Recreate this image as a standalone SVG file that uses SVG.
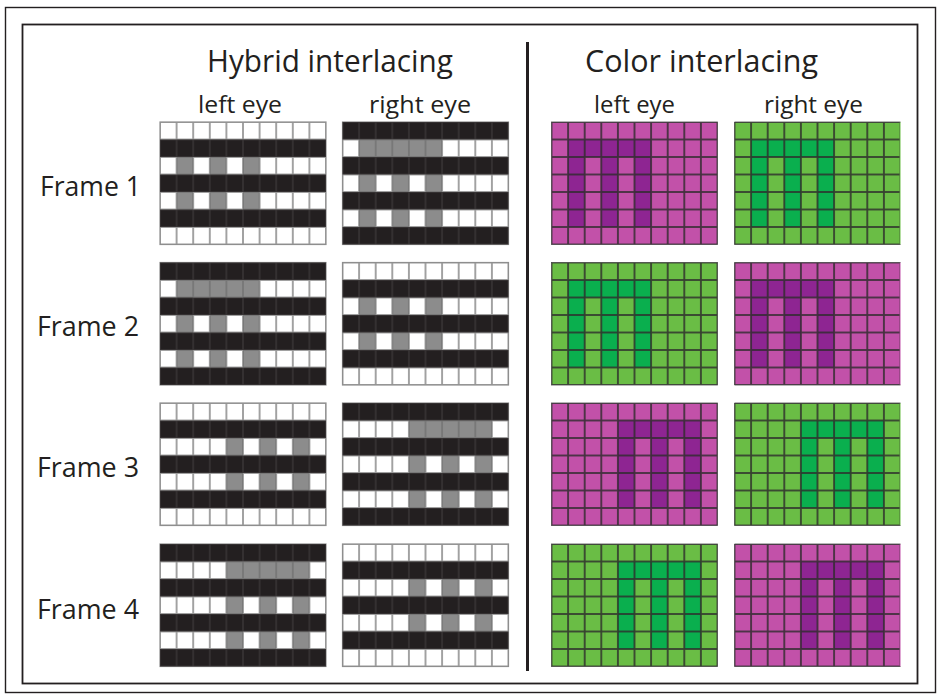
<svg xmlns="http://www.w3.org/2000/svg" xmlns:xlink="http://www.w3.org/1999/xlink" width="940" height="696" viewBox="0 0 940 696">
<style>
.t{font-family:"Open Sans","Noto Sans","Liberation Sans",sans-serif;fill:#231f20}
.title{font-size:31px}
.eye{font-size:24px}
.frame{font-size:28px}
</style>
<defs>
<pattern id="gl" width="16.6" height="17.5" patternUnits="userSpaceOnUse"><rect width="16.6" height="17.5" fill="none" stroke="#6e6e6e" stroke-opacity="0.7" stroke-width="1.8"/></pattern>
<pattern id="bk" width="16.6" height="17.5" patternUnits="userSpaceOnUse"><rect width="16.6" height="17.5" fill="#231f20" stroke="#3a3637" stroke-width="1.4"/></pattern>
<pattern id="cl" width="16.6" height="17.5" patternUnits="userSpaceOnUse"><rect width="16.6" height="17.5" fill="none" stroke="#2e2a2c" stroke-width="1.8" stroke-opacity="0.85"/></pattern>
<path id="m" d="M0,17.5h83v87.5h-16.6v-70h-16.6v70h-16.6v-70h-16.6v70h-16.6z"/>
<g id="odd" fill="url(#bk)"><rect y="17.5" width="166" height="17.5"/><rect y="52.5" width="166" height="17.5"/><rect y="87.5" width="166" height="17.5"/></g>
<g id="even" fill="url(#bk)"><rect y="0" width="166" height="17.5"/><rect y="35" width="166" height="17.5"/><rect y="70" width="166" height="17.5"/><rect y="105" width="166" height="17.5"/></g>
<g id="hbase"><rect width="166" height="122.5" fill="#fff"/></g>
<g id="hlines"><rect width="166" height="122.5" fill="url(#gl)"/><rect width="166" height="122.5" fill="none" stroke="#8e8e8e" stroke-width="1.2"/></g>
<g id="clines"><rect width="166" height="122.5" fill="url(#cl)"/><rect width="166" height="122.5" fill="none" stroke="#4a4a4a" stroke-width="0.8"/></g>
<g id="clinesR"><rect width="165.2" height="122.5" fill="url(#cl)"/><path d="M166,0H0V122.5H166" fill="none" stroke="#4a4a4a" stroke-width="0.8"/></g>
</defs>

<g id="frame-border">
<rect x="5.5" y="7.5" width="930" height="685" fill="#fff" stroke="#231f20" stroke-width="1.4"/>
<rect x="22.5" y="24.5" width="895" height="659" fill="#fff" stroke="#231f20" stroke-width="1.8"/>
</g>

<g id="headings">
<text class="t title" x="207" y="72" textLength="246" lengthAdjust="spacingAndGlyphs">Hybrid interlacing</text>
<text class="t title" x="585" y="72" textLength="233" lengthAdjust="spacingAndGlyphs">Color interlacing</text>
<text class="t eye" x="198" y="113" textLength="84" lengthAdjust="spacingAndGlyphs">left eye</text>
<text class="t eye" x="369" y="113" textLength="102" lengthAdjust="spacingAndGlyphs">right eye</text>
<text class="t eye" x="594" y="113" textLength="81" lengthAdjust="spacingAndGlyphs">left eye</text>
<text class="t eye" x="764" y="113" textLength="99" lengthAdjust="spacingAndGlyphs">right eye</text>
</g>

<g id="frame-labels">
<text id="label-frame1" class="t frame" x="40" y="196" textLength="101" lengthAdjust="spacingAndGlyphs">Frame 1</text>
<text id="label-frame2" class="t frame" x="37" y="336" textLength="102" lengthAdjust="spacingAndGlyphs">Frame 2</text>
<text id="label-frame3" class="t frame" x="37" y="477" textLength="102" lengthAdjust="spacingAndGlyphs">Frame 3</text>
<text id="label-frame4" class="t frame" x="37" y="619" textLength="102" lengthAdjust="spacingAndGlyphs">Frame 4</text>
</g>

<g id="connectors">
<line id="divider" x1="527.5" y1="42" x2="527.5" y2="671" stroke="#231f20" stroke-width="3"/>
</g>

<!-- Hybrid interlacing -->
<g id="hyb-f1-left" transform="translate(160,122)"><use href="#hbase"/><use href="#m" x="16.6" fill="#8c8c8c"/><use href="#hlines"/><use href="#odd"/></g>
<g id="hyb-f1-right" transform="translate(342.5,122)"><use href="#hbase"/><use href="#m" x="16.6" fill="#8c8c8c"/><use href="#hlines"/><use href="#even"/></g>
<g id="hyb-f2-left" transform="translate(160,262.5)"><use href="#hbase"/><use href="#m" x="16.6" fill="#8c8c8c"/><use href="#hlines"/><use href="#even"/></g>
<g id="hyb-f2-right" transform="translate(342.5,262.5)"><use href="#hbase"/><use href="#m" x="16.6" fill="#8c8c8c"/><use href="#hlines"/><use href="#odd"/></g>
<g id="hyb-f3-left" transform="translate(160,403)"><use href="#hbase"/><use href="#m" x="66.4" fill="#8c8c8c"/><use href="#hlines"/><use href="#odd"/></g>
<g id="hyb-f3-right" transform="translate(342.5,403)"><use href="#hbase"/><use href="#m" x="66.4" fill="#8c8c8c"/><use href="#hlines"/><use href="#even"/></g>
<g id="hyb-f4-left" transform="translate(160,544)"><use href="#hbase"/><use href="#m" x="66.4" fill="#8c8c8c"/><use href="#hlines"/><use href="#even"/></g>
<g id="hyb-f4-right" transform="translate(342.5,544)"><use href="#hbase"/><use href="#m" x="66.4" fill="#8c8c8c"/><use href="#hlines"/><use href="#odd"/></g>

<!-- Color interlacing -->
<g id="col-f1-left" transform="translate(551.5,122)"><rect width="166" height="122.5" fill="#c251a9"/><use href="#m" x="16.6" fill="#8e2592"/><use href="#clines"/></g>
<g id="col-f1-right" transform="translate(734.5,122)"><rect width="166" height="122.5" fill="#6abd45"/><use href="#m" x="16.6" fill="#0aaf4e"/><use href="#clinesR"/></g>
<g id="col-f2-left" transform="translate(551.5,262.5)"><rect width="166" height="122.5" fill="#6abd45"/><use href="#m" x="16.6" fill="#0aaf4e"/><use href="#clines"/></g>
<g id="col-f2-right" transform="translate(734.5,262.5)"><rect width="166" height="122.5" fill="#c251a9"/><use href="#m" x="16.6" fill="#8e2592"/><use href="#clinesR"/></g>
<g id="col-f3-left" transform="translate(551.5,403)"><rect width="166" height="122.5" fill="#c251a9"/><use href="#m" x="66.4" fill="#8e2592"/><use href="#clines"/></g>
<g id="col-f3-right" transform="translate(734.5,403)"><rect width="166" height="122.5" fill="#6abd45"/><use href="#m" x="66.4" fill="#0aaf4e"/><use href="#clinesR"/></g>
<g id="col-f4-left" transform="translate(551.5,544)"><rect width="166" height="122.5" fill="#6abd45"/><use href="#m" x="66.4" fill="#0aaf4e"/><use href="#clines"/></g>
<g id="col-f4-right" transform="translate(734.5,544)"><rect width="166" height="122.5" fill="#c251a9"/><use href="#m" x="66.4" fill="#8e2592"/><use href="#clinesR"/></g>
</svg>
